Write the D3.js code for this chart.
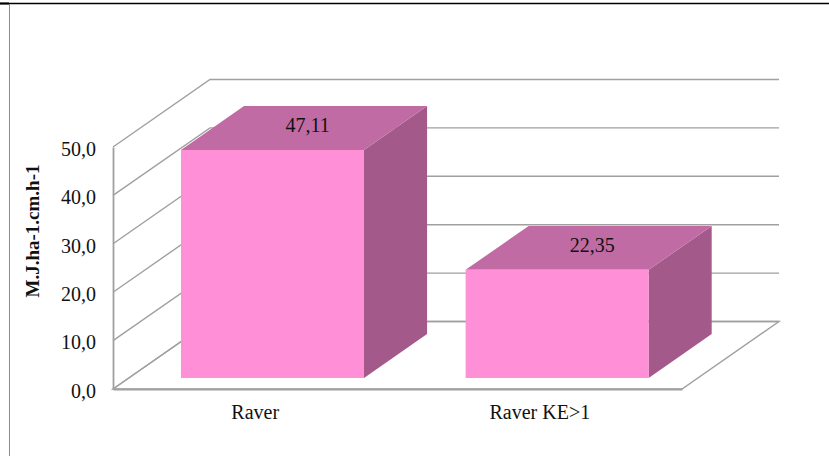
<!DOCTYPE html>
<html>
<head>
<meta charset="utf-8">
<script src="https://d3js.org/d3.v7.min.js"></script>
<style>
  html, body { margin: 0; padding: 0; background: #fff; overflow: hidden; }
  svg { display: block; }
  text { font-family: "Liberation Serif", serif; fill: #111; }
</style>
</head>
<body>
<svg width="829" height="456"></svg>
<script>
const categories = ["Raver", "Raver KE>1"];
const values = [47.11, 22.35];
const valueLabels = ["47,11", "22,35"];
const yTicks = [0, 10, 20, 30, 40, 50];
const yTitle = "M.J.ha-1.cm.h-1";

const svg = d3.select("svg");

// front plane of the 3d box
const plotLeft = 113, plotRight = 682, plotBottom = 389, plotTop = 147;
// how far the back wall is shifted from the front plane
const depthX = 97, depthY = -67.5;
// where the bars sit inside the depth, 0 = front, 1 = back
const barFront = 0.163, barBack = 0.813;
// bars sit a bit right of the band centre
const barShift = 1.5;

const x = d3.scaleBand()
    .domain(categories)
    .range([plotLeft, plotRight])
    .paddingInner(0.357)
    .paddingOuter(0.178);

const y = d3.scaleLinear()
    .domain([0, 50])
    .range([plotBottom, plotTop]);

// front plane position + depth => screen point
function pt(px, v, depth) {
    return [px + depth * depthX, y(v) + depth * depthY];
}

function poly(points) {
    return points.map(p => p.join(",")).join(" ");
}

// page frame
svg.append("line").attr("x1", 0).attr("x2", 829).attr("y1", 3.5).attr("y2", 3.5)
    .attr("stroke", "#000").attr("stroke-width", 1.3);
svg.append("line").attr("x1", 0).attr("x2", 9).attr("y1", 3.5).attr("y2", 3.5)
    .attr("stroke", "#000").attr("stroke-width", 2);
svg.append("line").attr("x1", 9.5).attr("x2", 9.5).attr("y1", 4).attr("y2", 456)
    .attr("stroke", "#8c8c8c").attr("stroke-width", 1);

const gridColor = "#a0a0a0";

// floor
svg.append("polygon")
    .attr("points", poly([pt(plotLeft, 0, 0), pt(plotRight, 0, 0), pt(plotRight, 0, 1), pt(plotLeft, 0, 1)]))
    .attr("fill", "#fff")
    .attr("stroke", gridColor)
    .attr("stroke-width", 1.4);

// side wall + back wall gridlines
svg.append("g").selectAll("polyline")
    .data(yTicks)
    .enter()
    .append("polyline")
    .attr("points", d => poly([pt(plotLeft, d, 0), pt(plotLeft, d, 1), pt(plotRight, d, 1)]))
    .attr("fill", "none")
    .attr("stroke", gridColor)
    .attr("stroke-width", 1.4);

// y axis
const yAxis = svg.append("g")
    .attr("transform", "translate(" + plotLeft + ",0)")
    .call(d3.axisLeft(y)
        .tickValues(yTicks)
        .tickSize(0)
        .tickPadding(17)
        .tickFormat(d => d3.format(".1f")(d).replace(".", ",")));
yAxis.select(".domain").attr("stroke", gridColor).attr("stroke-width", 1.8);
yAxis.selectAll("text")
    .attr("font-size", 20)
    .attr("font-family", "Liberation Serif")
    .attr("dy", "0.41em");

// x axis, only labels
const xAxis = svg.append("g")
    .attr("transform", "translate(0," + plotBottom + ")")
    .call(d3.axisBottom(x).tickSize(0).tickPadding(15.5));
xAxis.select(".domain").attr("stroke", gridColor).attr("stroke-width", 1.8);
xAxis.selectAll("text")
    .attr("font-size", 20)
    .attr("font-family", "Liberation Serif");

// y title
svg.append("text")
    .attr("transform", "translate(39,231) rotate(-90)")
    .attr("text-anchor", "middle")
    .attr("font-size", 19)
    .attr("font-weight", "bold")
    .text(yTitle);

// bars
const bars = svg.append("g").selectAll("g")
    .data(categories.map((c, i) => ({c: c, v: values[i], label: valueLabels[i]})))
    .enter()
    .append("g");

bars.append("polygon")
    .attr("fill", "#a35a8a")
    .attr("points", d => {
        const x1 = x(d.c) + x.bandwidth() + barShift;
        return poly([pt(x1, 0, barFront), pt(x1, 0, barBack), pt(x1, d.v, barBack), pt(x1, d.v, barFront)]);
    });

bars.append("polygon")
    .attr("fill", "#c06ba3")
    .attr("points", d => {
        const x0 = x(d.c) + barShift, x1 = x0 + x.bandwidth();
        return poly([pt(x0, d.v, barFront), pt(x1, d.v, barFront), pt(x1, d.v, barBack), pt(x0, d.v, barBack)]);
    });

bars.append("polygon")
    .attr("fill", "#ff8fd6")
    .attr("points", d => {
        const x0 = x(d.c) + barShift, x1 = x0 + x.bandwidth();
        return poly([pt(x0, 0, barFront), pt(x1, 0, barFront), pt(x1, d.v, barFront), pt(x0, d.v, barFront)]);
    });

// value labels on the top face
bars.append("text")
    .attr("text-anchor", "middle")
    .attr("font-size", 20)
    .attr("x", d => pt(x(d.c) + x.bandwidth() / 2, d.v, (barFront + barBack) / 2)[0] + 5)
    .attr("y", d => pt(x(d.c) + x.bandwidth() / 2, d.v, (barFront + barBack) / 2)[1] + 4)
    .text(d => d.label);
</script>
</body>
</html>
